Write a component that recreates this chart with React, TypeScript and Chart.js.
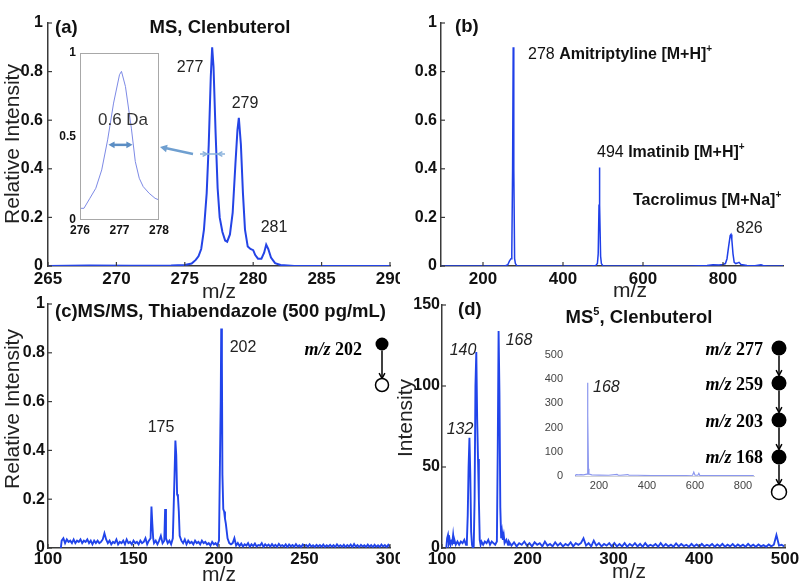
import { useEffect, useRef } from 'react';
import { Chart, registerables } from 'chart.js';

Chart.register(...registerables);

const SANS = "'Liberation Sans', Arial, Helvetica, sans-serif";
const SERIF = "'Liberation Serif', 'Times New Roman', serif";

/* ---------------- (a) MS, Clenbuterol ---------------- */
const aMz = [265, 268, 271, 274, 275, 275.5, 275.8, 276, 276.2, 276.4, 276.6, 276.75, 276.9, 277, 277.1,
  277.25, 277.4, 277.55, 277.75, 277.95, 278.1, 278.3, 278.5, 278.7, 278.85, 278.95, 279.1, 279.25, 279.4, 279.6,
  279.8, 280, 280.15, 280.35, 280.6, 280.8, 280.95, 281.1, 281.3, 281.6, 282, 282.5, 283, 290];
const aIntensity = [0, 0.002, 0.001, 0.002, 0.004, 0.01, 0.025, 0.04, 0.07, 0.15, 0.3, 0.5, 0.78, 0.9, 0.82,
  0.55, 0.32, 0.2, 0.14, 0.105, 0.1, 0.13, 0.22, 0.42, 0.56, 0.61, 0.5, 0.3, 0.15, 0.08,
  0.07, 0.065, 0.045, 0.03, 0.03, 0.055, 0.088, 0.07, 0.035, 0.012, 0.004, 0.002, 0, 0];
const aXTicks = [265, 270, 275, 280, 285, 290];
const aYTicks = [0, 0.2, 0.4, 0.6, 0.8, 1];
const aPeakLabels = ['277', '279', '281'];

/* (a) inset: zoom on m/z 277 */
const aInsetMz = [276, 276.1, 276.25, 276.4, 276.55, 276.7, 276.85, 277, 277.05, 277.15, 277.3, 277.4, 277.5, 277.6, 277.75, 277.9, 278];
const aInsetIntensity = [0.07, 0.07, 0.13, 0.19, 0.3, 0.48, 0.7, 0.87, 0.89, 0.8, 0.55, 0.35, 0.25, 0.2, 0.16, 0.13, 0.12];
const aInsetXTicks = [276, 277, 278];
const aInsetYTicks = [0, 0.5, 1];
const aFwhm = [276.72, 277.33];

/* ---------------- (b) mixture ---------------- */
const bMz = [95, 150, 200, 255, 262, 266, 270, 272, 274, 275.5, 277, 279, 281, 285, 330, 400, 470, 482, 486, 488,
  490, 491, 492, 494, 496, 500, 560, 650, 720, 760, 775, 790, 800, 806, 810, 814, 818, 820, 822, 825,
  828, 832, 836, 840, 845, 860, 880, 895, 900, 910, 950];
const bIntensity = [0, 0, 0, 0, 0.005, 0.02, 0.03, 0.05, 0.4, 0.9, 0.4, 0.03, 0.01, 0, 0, 0, 0, 0.002, 0.01, 0.05,
  0.25, 0.405, 0.25, 0.04, 0.01, 0, 0, 0, 0, 0.002, 0.005, 0.004, 0.006, 0.01, 0.03, 0.08, 0.125, 0.13, 0.11, 0.05,
  0.015, 0.01, 0.012, 0.015, 0.006, 0.002, 0.001, 0.005, 0.002, 0, 0];
const bXTicks = [200, 400, 600, 800];
const bYTicks = [0, 0.2, 0.4, 0.6, 0.8, 1];

/* ---------------- (c) MS/MS Thiabendazole ---------------- */
const cMz = [
  107.5, 108, 109, 110, 111, 112, 113, 114, 115, 116,
  117, 118, 119, 120, 121, 122, 123, 124, 125, 126,
  127, 128, 129, 130, 131, 132, 133, 134, 135, 136,
  137, 138, 139, 140, 141, 142, 143, 144, 145, 146,
  147, 148, 149, 150, 151, 152, 153, 154, 155, 156,
  157, 158, 159, 160, 160.5, 161, 161.5, 162, 163, 164,
  165, 166, 167, 168, 168.5, 169, 170, 171, 172, 173,
  174, 174.5, 175, 175.5, 176, 176.5, 177, 178, 179, 180,
  181, 182, 183, 184, 185, 186, 187, 188, 189, 190,
  191, 192, 193, 194, 195, 196, 197, 198, 199, 200,
  200.5, 201, 201.3, 201.7, 202, 202.5, 203, 203.5, 204, 205,
  206, 207, 208, 209, 210];
const cIntensity = [
  0, 0.03, 0.04, 0.02, 0.035, 0.025, 0.03, 0.02, 0.035, 0.02,
  0.03, 0.025, 0.035, 0.02, 0.03, 0.025, 0.035, 0.02, 0.03, 0.015,
  0.03, 0.02, 0.03, 0.02, 0.025, 0.035, 0.06, 0.035, 0.02, 0.03,
  0.015, 0.025, 0.02, 0.035, 0.015, 0.025, 0.02, 0.03, 0.015, 0.035,
  0.02, 0.025, 0.015, 0.03, 0.02, 0.025, 0.015, 0.03, 0.02, 0.025,
  0.04, 0.015, 0.03, 0.04, 0.17, 0.1, 0.04, 0.02, 0.03, 0.015,
  0.03, 0.05, 0.02, 0.03, 0.16, 0.04, 0.02, 0.03, 0.015, 0.04,
  0.3, 0.44, 0.38, 0.22, 0.21, 0.15, 0.05, 0.03, 0.02, 0.035,
  0.015, 0.03, 0.02, 0.025, 0.015, 0.03, 0.02, 0.025, 0.015, 0.03,
  0.02, 0.025, 0.015, 0.02, 0.01, 0.025, 0.015, 0.02, 0.01, 0.03,
  0.03, 0.6, 0.9, 0.76, 0.3, 0.16, 0.15, 0.12, 0.1, 0.04,
  0.02, 0.015, 0.02, 0.04, 0.01];
/* tail sampled every 1 m/z from 211 to 300 */
const cTailStart = 211;
const cTailStep = 1;
const cTailIntensity = [
  0.02, 0.008, 0.018, 0.006, 0.015, 0.01, 0.02, 0.005, 0.015, 0.008,
  0.018, 0.006, 0.012, 0.01, 0.02, 0.005, 0.015, 0.008, 0.014, 0.006,
  0.016, 0.007, 0.013, 0.005, 0.017, 0.008, 0.012, 0.006, 0.015, 0.004,
  0.014, 0.007, 0.012, 0.005, 0.016, 0.006, 0.011, 0.004, 0.014, 0.007,
  0.012, 0.005, 0.015, 0.006, 0.011, 0.004, 0.013, 0.006, 0.012, 0.005,
  0.014, 0.004, 0.011, 0.006, 0.013, 0.005, 0.012, 0.004, 0.015, 0.006,
  0.011, 0.005, 0.013, 0.004, 0.012, 0.006, 0.014, 0.004, 0.016, 0.005,
  0.012, 0.004, 0.013, 0.006, 0.011, 0.004, 0.014, 0.005, 0.012, 0.004,
  0.013, 0.005, 0.011, 0.004, 0.014, 0.006, 0.012, 0.004, 0.013, 0.005];
const cXTicks = [100, 150, 200, 250, 300];
const cYTicks = [0, 0.2, 0.4, 0.6, 0.8, 1];
const cPeakLabels = ['175', '202'];
const cPrecursor = ['202'];

/* ---------------- (d) MS5 Clenbuterol ---------------- */
const dMz = [105, 106, 107, 108, 109, 110, 111, 112, 113, 114, 115, 116, 118, 120, 122, 124, 126, 128,
  129, 130, 131, 132, 133, 134, 135, 136, 137, 138, 139, 140, 141, 142, 143, 144, 145, 146,
  148, 150, 152, 154, 156, 158, 160, 162, 164,
  165, 166, 167, 168, 169, 170, 171, 172, 173, 175, 177];
const dIntensity = [0, 6, 8, 3, 5, 2, 4, 3, 8, 3, 4, 2, 4, 2, 4, 3, 5, 2,
  4, 20, 50, 68, 45, 10, 2, 0, 1, 30, 100, 121, 80, 55, 30, 5, 2, 4,
  2, 4, 3, 5, 2, 4, 3, 2, 4,
  60, 134, 95, 25, 6, 10, 5, 8, 3, 5, 2];
/* tail sampled every 3 m/z from 178 to 499 */
const dTailStart = 178;
const dTailStep = 3;
const dTailIntensity = [
  4, 1.5, 3.5, 1, 3, 2, 4, 1.5, 3, 1,
  3.5, 2, 3, 1, 4, 1.5, 2.5, 1, 3.5, 1.5,
  3, 1, 2.5, 1.5, 3.5, 1, 3, 2, 3, 6,
  1.5, 3, 1, 4.5, 1.5, 3, 1, 2.5, 1.5, 3,
  1, 3, 1, 2.5, 1, 3, 0.8, 2.5, 1.2, 3,
  1, 2.5, 0.8, 3, 1, 2, 1.2, 2.5, 0.8, 3,
  1, 2.5, 1, 2, 0.8, 2.8, 1, 2.5, 1.2, 2,
  0.8, 2.5, 1, 2.2, 0.8, 2.5, 1, 2, 1.2, 2.5,
  0.8, 2.2, 1, 2.5, 0.8, 2, 1, 2.4, 0.8, 2.2,
  1, 2, 0.8, 2.5, 1, 2, 0.8, 2.2, 1, 1.8,
  0.8, 2.2, 1, 2, 8, 1.5, 2, 1];
const dXTicks = [100, 200, 300, 400, 500];
const dYTicks = [0, 50, 100, 150];
const dPeakLabels = ['132', '140', '168'];
const dPathway = ['277', '259', '203', '168'];

/* (d) inset: full range MS5 */
const dInsetMz = [100, 105, 115, 125, 135, 145, 150, 152, 154, 156, 158, 170, 200, 240, 275, 280, 290, 320, 325, 360,
  420, 480, 540, 590, 595, 600, 612, 616, 620, 680, 760, 845];
const dInsetIntensity = [0, 6, 5, 6, 5, 7, 8, 385, 250, 30, 8, 5, 4, 3, 7, 3, 3, 6, 3, 3,
  2, 2, 2, 3, 16, 3, 3, 11, 2, 2, 2, 2];
const dInsetXTicks = [200, 400, 600, 800];
const dInsetYTicks = [0, 100, 200, 300, 400, 500];
const dInsetLabel = '168';

/* ---------------- helpers ---------------- */
type Pt = { x: number; y: number };
const toPoints = (xs: number[], ys: number[]): Pt[] => xs.map((x, i) => ({ x, y: ys[i] }));
const gridPoints = (start: number, step: number, ys: number[]): Pt[] => ys.map((y, i) => ({ x: start + i * step, y }));

type Seg = [string, string, number?];
function segs(ctx: CanvasRenderingContext2D, parts: Seg[], x: number, y: number, align: 'left' | 'center' | 'right', color = '#111') {
  ctx.save();
  ctx.fillStyle = color;
  ctx.textBaseline = 'alphabetic';
  ctx.textAlign = 'left';
  let total = 0;
  for (const p of parts) { ctx.font = p[1]; total += ctx.measureText(p[0]).width; }
  let cx = align === 'left' ? x : align === 'center' ? x - total / 2 : x - total;
  for (const p of parts) {
    ctx.font = p[1];
    ctx.fillText(p[0], cx, y - (p[2] || 0));
    cx += ctx.measureText(p[0]).width;
  }
  ctx.restore();
}
function rotText(ctx: CanvasRenderingContext2D, text: string, font: string, x: number, y: number, color = '#222') {
  ctx.save();
  ctx.translate(x, y);
  ctx.rotate(-Math.PI / 2);
  ctx.font = font;
  ctx.fillStyle = color;
  ctx.textAlign = 'center';
  ctx.textBaseline = 'alphabetic';
  ctx.fillText(text, 0, 0);
  ctx.restore();
}
function head(ctx: CanvasRenderingContext2D, x1: number, y1: number, x2: number, y2: number, len: number, filled: boolean) {
  const a = Math.atan2(y2 - y1, x2 - x1);
  ctx.beginPath();
  ctx.moveTo(x2 - len * Math.cos(a - 0.5), y2 - len * Math.sin(a - 0.5));
  ctx.lineTo(x2, y2);
  ctx.lineTo(x2 - len * Math.cos(a + 0.5), y2 - len * Math.sin(a + 0.5));
  if (filled) { ctx.closePath(); ctx.fill(); } else ctx.stroke();
}
function pathway(ctx: CanvasRenderingContext2D, cx: number, ys: number[], r: number, labels: string[], labelRight: number, baselines: number[]) {
  ctx.save();
  ctx.strokeStyle = '#000';
  ctx.fillStyle = '#000';
  ctx.lineWidth = 1.5;
  for (let i = 0; i < ys.length - 1; i++) {
    const y1 = ys[i] + r;
    const y2 = ys[i + 1] - r;
    ctx.beginPath(); ctx.moveTo(cx, y1); ctx.lineTo(cx, y2); ctx.stroke();
    head(ctx, cx, y1, cx, y2, 6, false);
  }
  ys.forEach((y, i) => {
    ctx.beginPath();
    ctx.arc(cx, y, r, 0, Math.PI * 2);
    if (i < ys.length - 1) { ctx.fillStyle = '#000'; ctx.fill(); }
    else { ctx.fillStyle = '#fff'; ctx.fill(); ctx.stroke(); }
  });
  ctx.restore();
  labels.forEach((l, i) => {
    segs(ctx, [['m/z', `italic bold 18px ${SERIF}`], [' ' + l, `bold 18px ${SERIF}`]], labelRight, baselines[i], 'right', '#000');
  });
}

const B185 = `bold 18.5px ${SANS}`;
const R16 = `16px ${SANS}`;
const B16 = `bold 16px ${SANS}`;
const I16 = `italic 16px ${SANS}`;
const R21 = `21px ${SANS}`;
const SUP = `bold 10px ${SANS}`;

type DrawFn = (ctx: CanvasRenderingContext2D, X: (v: number) => number, Y: (v: number) => number) => void;

const drawA: DrawFn = (ctx) => {
  segs(ctx, [['(a)', B185]], 55, 33, 'left');
  segs(ctx, [['MS, Clenbuterol', B185]], 220, 33, 'center');
  rotText(ctx, 'Relative Intensity', R21, 19, 144);
  segs(ctx, [['m/z', R21]], 219, 298, 'center', '#222');
  segs(ctx, [[aPeakLabels[0], R16]], 190, 72, 'center', '#222');
  segs(ctx, [[aPeakLabels[1], R16]], 245, 108, 'center', '#222');
  segs(ctx, [[aPeakLabels[2], R16]], 274, 232, 'center', '#222');
  // pointer arrow towards inset
  ctx.save();
  ctx.strokeStyle = '#6f9fd0';
  ctx.fillStyle = '#6f9fd0';
  ctx.lineWidth = 2.5;
  ctx.beginPath(); ctx.moveTo(193, 154); ctx.lineTo(163, 147.5); ctx.stroke();
  head(ctx, 193, 154, 160, 147, 8, true);
  // small FWHM marker on peak
  ctx.strokeStyle = '#8ab2dc';
  ctx.lineWidth = 1.5;
  ctx.beginPath(); ctx.moveTo(200, 154); ctx.lineTo(225, 154); ctx.stroke();
  head(ctx, 200, 154, 207, 154, 5, false);
  head(ctx, 225, 154, 218, 154, 5, false);
  ctx.restore();
};

const drawAInset: DrawFn = (ctx, X, Y) => {
  segs(ctx, [['0.6 Da', `17px ${SANS}`]], 123, 125, 'center', '#333');
  const x1 = X(aFwhm[0]);
  const x2 = X(aFwhm[1]);
  const y = Y(0.45);
  ctx.save();
  ctx.strokeStyle = '#5b8ec4';
  ctx.fillStyle = '#5b8ec4';
  ctx.lineWidth = 2.5;
  ctx.beginPath(); ctx.moveTo(x1 + 3, y); ctx.lineTo(x2 - 3, y); ctx.stroke();
  head(ctx, x2, y, x1, y, 7, true);
  head(ctx, x1, y, x2, y, 7, true);
  ctx.restore();
};

const drawB: DrawFn = (ctx) => {
  segs(ctx, [['(b)', B185]], 455, 32, 'left');
  segs(ctx, [['278 ', R16], ['Amitriptyline [M+H]', B16], ['+', SUP, 7]], 528, 59, 'left');
  segs(ctx, [['494 ', R16], ['Imatinib [M+H]', B16], ['+', SUP, 7]], 597, 157, 'left');
  segs(ctx, [['Tacrolimus [M+Na]', B16], ['+', SUP, 7]], 633, 205, 'left');
  segs(ctx, [['826', R16]], 736, 233, 'left', '#222');
  segs(ctx, [['m/z', R21]], 630, 297, 'center', '#222');
};

const drawC: DrawFn = (ctx) => {
  segs(ctx, [['(c)MS/MS, Thiabendazole (500 pg/mL)', B185]], 55, 317, 'left');
  rotText(ctx, 'Relative Intensity', R21, 19, 409);
  segs(ctx, [['m/z', R21]], 219, 581, 'center', '#222');
  segs(ctx, [[cPeakLabels[0], R16]], 161, 432, 'center', '#222');
  segs(ctx, [[cPeakLabels[1], R16]], 243, 352, 'center', '#222');
  pathway(ctx, 382, [344, 385], 6.5, cPrecursor, 362, [355]);
};

const drawD: DrawFn = (ctx) => {
  segs(ctx, [['(d)', B185]], 458, 315, 'left');
  segs(ctx, [['MS', B185], ['5', `bold 11px ${SANS}`, 8], [', Clenbuterol', B185]], 639, 323, 'center');
  rotText(ctx, 'Intensity', R21, 412, 418);
  segs(ctx, [['m/z', R21]], 629, 578, 'center', '#222');
  segs(ctx, [[dPeakLabels[0], I16]], 460, 434, 'center', '#222');
  segs(ctx, [[dPeakLabels[1], I16]], 463, 355, 'center', '#222');
  segs(ctx, [[dPeakLabels[2], I16]], 519, 345, 'center', '#222');
  pathway(ctx, 779, [348, 383, 420, 457, 492], 7.5, dPathway, 763, [355, 390, 427, 463]);
};

const drawDInset: DrawFn = (ctx) => {
  segs(ctx, [[dInsetLabel, I16]], 593, 392, 'left', '#222');
};

interface PanelSpec {
  key: string;
  left: number; top: number; width: number; height: number;
  area: { left: number; right: number; top: number; bottom: number };
  points: Pt[];
  x: { min: number; max: number; ticks: number[] };
  y: { min: number; max: number; ticks: number[] };
  line: { color: string; width: number };
  xTick: { size: number; weight: string; pad: number };
  yTick: { size: number; weight: string; pad: number };
  tickColor: string;
  axis: { color: string; width: number } | null;
  innerTicks: boolean;
  frame?: string;
  background?: string;
  bottomLine?: string;
  draw?: DrawFn;
}

const AXIS = { color: '#3a3a3a', width: 1.5 };

const panels: PanelSpec[] = [
  {
    key: 'a', left: 0, top: 0, width: 400, height: 300,
    area: { left: 48, right: 390, top: 23, bottom: 266 },
    points: toPoints(aMz, aIntensity),
    x: { min: 265, max: 290, ticks: aXTicks }, y: { min: 0, max: 1, ticks: aYTicks },
    line: { color: '#2444e6', width: 2 },
    xTick: { size: 17, weight: 'bold', pad: 3 }, yTick: { size: 16, weight: 'bold', pad: 5 },
    tickColor: '#111', axis: AXIS, innerTicks: true, draw: drawA,
  },
  {
    key: 'ai', left: 55, top: 45, width: 120, height: 195,
    area: { left: 80, right: 159, top: 53, bottom: 220 },
    points: toPoints(aInsetMz, aInsetIntensity),
    x: { min: 276, max: 278, ticks: aInsetXTicks }, y: { min: 0, max: 1, ticks: aInsetYTicks },
    line: { color: '#7d8ae6', width: 1 },
    xTick: { size: 12, weight: 'bold', pad: 3 }, yTick: { size: 12, weight: 'bold', pad: 4 },
    tickColor: '#111', axis: null, innerTicks: false, frame: '#a8a8a8', background: '#ffffff', draw: drawAInset,
  },
  {
    key: 'b', left: 400, top: 0, width: 400, height: 300,
    area: { left: 441, right: 783, top: 23, bottom: 266 },
    points: toPoints(bMz, bIntensity),
    x: { min: 95, max: 950, ticks: bXTicks }, y: { min: 0, max: 1, ticks: bYTicks },
    line: { color: '#1f3fe8', width: 1.5 },
    xTick: { size: 17, weight: 'bold', pad: 3 }, yTick: { size: 16, weight: 'bold', pad: 4 },
    tickColor: '#111', axis: AXIS, innerTicks: true, draw: drawB,
  },
  {
    key: 'c', left: 0, top: 290, width: 400, height: 294,
    area: { left: 48, right: 390, top: 304, bottom: 548 },
    points: [...toPoints(cMz, cIntensity), ...gridPoints(cTailStart, cTailStep, cTailIntensity)],
    x: { min: 100, max: 300, ticks: cXTicks }, y: { min: 0, max: 1, ticks: cYTicks },
    line: { color: '#2144ea', width: 1.9 },
    xTick: { size: 17, weight: 'bold', pad: 1 }, yTick: { size: 16, weight: 'bold', pad: 3 },
    tickColor: '#111', axis: AXIS, innerTicks: true, draw: drawC,
  },
  {
    key: 'd', left: 393, top: 290, width: 407, height: 294,
    area: { left: 442, right: 785, top: 305, bottom: 548 },
    points: [...toPoints(dMz, dIntensity), ...gridPoints(dTailStart, dTailStep, dTailIntensity)],
    x: { min: 100, max: 500, ticks: dXTicks }, y: { min: 0, max: 150, ticks: dYTicks },
    line: { color: '#2144ea', width: 1.9 },
    xTick: { size: 17, weight: 'bold', pad: 1 }, yTick: { size: 16, weight: 'bold', pad: 2 },
    tickColor: '#111', axis: AXIS, innerTicks: true, draw: drawD,
  },
  {
    key: 'di', left: 528, top: 340, width: 240, height: 160,
    area: { left: 575, right: 755, top: 355, bottom: 476 },
    points: toPoints(dInsetMz, dInsetIntensity),
    x: { min: 100, max: 850, ticks: dInsetXTicks }, y: { min: 0, max: 500, ticks: dInsetYTicks },
    line: { color: '#8b97ee', width: 1.2 },
    xTick: { size: 11, weight: 'normal', pad: 3 }, yTick: { size: 11, weight: 'normal', pad: 12 },
    tickColor: '#444', axis: null, innerTicks: false, bottomLine: '#d4d4d4', draw: drawDInset,
  },
];

function buildConfig(p: PanelSpec): any {
  const yW = p.area.left - p.left;
  const xH = p.top + p.height - p.area.bottom;
  const border = p.axis
    ? { display: true, color: p.axis.color, width: p.axis.width }
    : { display: false };
  return {
    type: 'scatter',
    data: {
      datasets: [{
        data: p.points, showLine: true, borderColor: p.line.color, borderWidth: p.line.width,
        pointRadius: 0, pointHoverRadius: 0, tension: 0, fill: false,
      }],
    },
    options: {
      animation: false, responsive: false, maintainAspectRatio: false, events: [],
      layout: { autoPadding: false, padding: { left: 0, right: p.left + p.width - p.area.right, top: p.area.top - p.top, bottom: 0 } },
      plugins: { legend: { display: false }, tooltip: { enabled: false }, title: { display: false } },
      scales: {
        x: {
          type: 'linear', position: 'bottom', min: p.x.min, max: p.x.max,
          afterBuildTicks: (s: any) => { s.ticks = p.x.ticks.map((v) => ({ value: v })); },
          afterFit: (s: any) => { s.height = xH; s.paddingLeft = 0; s.paddingRight = 0; },
          grid: { display: false, drawTicks: false },
          border,
          ticks: {
            autoSkip: false, maxRotation: 0, minRotation: 0, padding: p.xTick.pad, color: p.tickColor,
            font: { family: SANS, size: p.xTick.size, weight: p.xTick.weight },
            callback: (v: number) => String(v),
          },
        },
        y: {
          type: 'linear', position: 'left', min: p.y.min, max: p.y.max,
          afterBuildTicks: (s: any) => { s.ticks = p.y.ticks.map((v) => ({ value: v })); },
          afterFit: (s: any) => { s.width = yW; s.paddingTop = 0; s.paddingBottom = 0; },
          grid: { display: false, drawTicks: false },
          border,
          ticks: {
            autoSkip: false, padding: p.yTick.pad, color: p.tickColor,
            font: { family: SANS, size: p.yTick.size, weight: p.yTick.weight },
            callback: (v: number) => String(v),
          },
        },
      },
    },
    plugins: [{
      id: 'decor_' + p.key,
      beforeDraw: (chart: any) => {
        if (!p.background) return;
        const ca = chart.chartArea;
        const ctx = chart.ctx;
        ctx.save();
        ctx.fillStyle = p.background;
        ctx.fillRect(ca.left, ca.top, ca.right - ca.left, ca.bottom - ca.top);
        ctx.restore();
      },
      afterDraw: (chart: any) => {
        const ctx: CanvasRenderingContext2D = chart.ctx;
        const ca = chart.chartArea;
        const xs = chart.scales.x;
        const ys = chart.scales.y;
        ctx.save();
        if (p.frame) {
          ctx.strokeStyle = p.frame;
          ctx.lineWidth = 1;
          ctx.strokeRect(ca.left + 0.5, ca.top + 0.5, ca.right - ca.left - 1, ca.bottom - ca.top - 1);
        }
        if (p.bottomLine) {
          ctx.strokeStyle = p.bottomLine;
          ctx.lineWidth = 1;
          ctx.beginPath(); ctx.moveTo(ca.left, ca.bottom + 0.5); ctx.lineTo(ca.right, ca.bottom + 0.5); ctx.stroke();
        }
        if (p.innerTicks && p.axis) {
          ctx.strokeStyle = p.axis.color;
          ctx.lineWidth = 1.2;
          xs.ticks.forEach((t: any) => {
            const px = xs.getPixelForValue(t.value);
            ctx.beginPath(); ctx.moveTo(px, ca.bottom); ctx.lineTo(px, ca.bottom - 4); ctx.stroke();
          });
          ys.ticks.forEach((t: any) => {
            const py = ys.getPixelForValue(t.value);
            ctx.beginPath(); ctx.moveTo(ca.left, py); ctx.lineTo(ca.left + 4, py); ctx.stroke();
          });
        }
        ctx.translate(-p.left, -p.top);
        if (p.draw) {
          p.draw(ctx, (v) => p.left + xs.getPixelForValue(v), (v) => p.top + ys.getPixelForValue(v));
        }
        ctx.restore();
      },
    }],
  };
}

function PanelCanvas({ spec }: { spec: PanelSpec }) {
  const ref = useRef<HTMLCanvasElement>(null);
  useEffect(() => {
    if (!ref.current) return;
    const chart = new Chart(ref.current, buildConfig(spec));
    return () => chart.destroy();
  }, [spec]);
  return (
    <canvas
      ref={ref}
      width={spec.width}
      height={spec.height}
      style={{ position: 'absolute', left: spec.left, top: spec.top, width: spec.width, height: spec.height }}
    />
  );
}

export default function App() {
  return (
    <div style={{ position: 'fixed', left: 0, top: 0, width: 800, height: 584, background: '#ffffff', overflow: 'hidden' }}>
      {panels.map((p) => <PanelCanvas key={p.key} spec={p} />)}
    </div>
  );
}
